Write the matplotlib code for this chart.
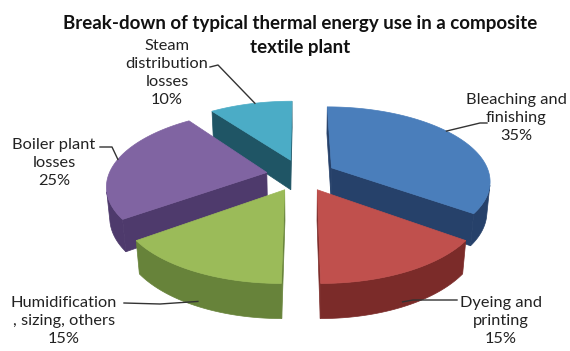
import numpy as np
import matplotlib.pyplot as plt
from matplotlib.patches import Polygon

plt.rcParams['font.family'] = ['Lato', 'DejaVu Sans']

title_lines = ["Break-down of typical thermal energy use in a composite", "textile plant"]
labels = ["Bleaching and\nfinishing", "Dyeing and\nprinting",
          "Humidification\n, sizing, others", "Boiler plant\nlosses",
          "Steam\ndistribution\nlosses"]
shares = [35, 15, 15, 25, 10]
top_colors = ["#4A7EBB", "#C0504D", "#9BBB59", "#8064A2", "#4BACC6"]
side_colors = ["#26416A", "#7B2B29", "#67833A", "#4E3A6C", "#1F5565"]

# label placement (pixels): text centre, line end at text, elbow,
# anchor on slice as (fraction of slice angle, fraction of depth)
label_xy = [(516, 118), (501, 321), (64, 321), (54, 163), (167, 73)]
line_end = [(487, 123), (457, 300), (124, 303), (100, 147), (210, 67)]
elbow = [(480, 123), (413, 300), (160, 304), (112, 147), (218, 65)]
anchor = [(0.44, 0.0), (0.52, 0.85), (0.49, 0.85), (0.52, 0.0), (0.55, 0.0)]

# fake 3D view
ALPHA = np.radians(26.5)
F, FX, D = 900.0, 870.0, 5.5
CX, CY = 301.0, 175.0
H = 0.21
EXPL = 0.22
S, C = np.sin(ALPHA), np.cos(ALPHA)
CAM = np.array([0.0, -D * C, D * S])


def project(x, y, z):
    u = y * S + z * C
    v = y * C - z * S
    return CX + FX * x / (D + v), CY - F * u / (D + v)


def depth(x, y, z):
    return y * C - z * S


fig = plt.figure(figsize=(5.7, 3.51), dpi=100)
ax = fig.add_axes([0, 0, 1, 1])
ax.set_xlim(0, 570)
ax.set_ylim(351, 0)
ax.axis("off")

fracs = np.array(shares) / sum(shares)
edges = np.concatenate([[0], np.cumsum(fracs)]) * 360

slices = []
for i in range(len(shares)):
    t1, t2 = edges[i], edges[i + 1]
    tm = np.radians((t1 + t2) / 2)
    ox, oy = EXPL * np.sin(tm), EXPL * np.cos(tm)
    slices.append((i, t1, t2, ox, oy))

# back to front
order = sorted(slices, key=lambda s: -depth(s[3] + 0.5 * np.sin(np.radians((s[1] + s[2]) / 2)),
                                          s[4] + 0.5 * np.cos(np.radians((s[1] + s[2]) / 2)), 0))

for i, t1, t2, ox, oy in order:
    th = np.radians(np.linspace(t1, t2, 120))
    xs, ys = ox + np.sin(th), oy + np.cos(th)
    top = [project(ox, oy, 0)] + [project(x, y, 0) for x, y in zip(xs, ys)]
    faces = []

    # radial faces
    for t, sign in ((np.radians(t1), -1), (np.radians(t2), 1)):
        n = sign * np.array([np.cos(t), -np.sin(t), 0])
        p = np.array([ox + 0.5 * np.sin(t), oy + 0.5 * np.cos(t), -H / 2])
        if np.dot(p - CAM, n) < 0:
            ex, ey = ox + np.sin(t), oy + np.cos(t)
            faces.append([project(ox, oy, 0), project(ex, ey, 0),
                          project(ex, ey, -H), project(ox, oy, -H)])

    # outer wall, only the parts facing the viewer
    vis = np.sin(th) * xs + np.cos(th) * (ys - CAM[1]) < 0
    run = []
    for k in range(len(th) + 1):
        if k < len(th) and vis[k]:
            run.append(k)
        elif run:
            up = [project(xs[j], ys[j], 0) for j in run]
            dn = [project(xs[j], ys[j], -H) for j in run[::-1]]
            faces.append(up + dn)
            run = []

    for f in faces:
        ax.add_patch(Polygon(f, closed=True, facecolor=side_colors[i],
                             edgecolor=side_colors[i], lw=0.5))
    ax.add_patch(Polygon(top, closed=True, facecolor=top_colors[i],
                         edgecolor=top_colors[i], lw=0.5))

# labels with leader lines
for i, t1, t2, ox, oy in slices:
    fa, za = anchor[i]
    t = np.radians(t1 + fa * (t2 - t1))
    ax_, ay_ = project(ox + np.sin(t), oy + np.cos(t), -za * H)
    ax.plot([line_end[i][0], elbow[i][0], ax_], [line_end[i][1], elbow[i][1], ay_],
            color="#333333", lw=1)
    ax.text(label_xy[i][0], label_xy[i][1], f"{labels[i]}\n{shares[i]}%",
            ha="center", va="center", fontsize=11.8, linespacing=1.35, color="#222222")

ax.text(300, 23, title_lines[0], ha="center", va="center", fontsize=13.5,
        fontweight="bold", color="#111111")
ax.text(300, 48, title_lines[1], ha="center", va="center", fontsize=13.5,
        fontweight="bold", color="#111111")

fig.savefig("out.png", dpi=100)
